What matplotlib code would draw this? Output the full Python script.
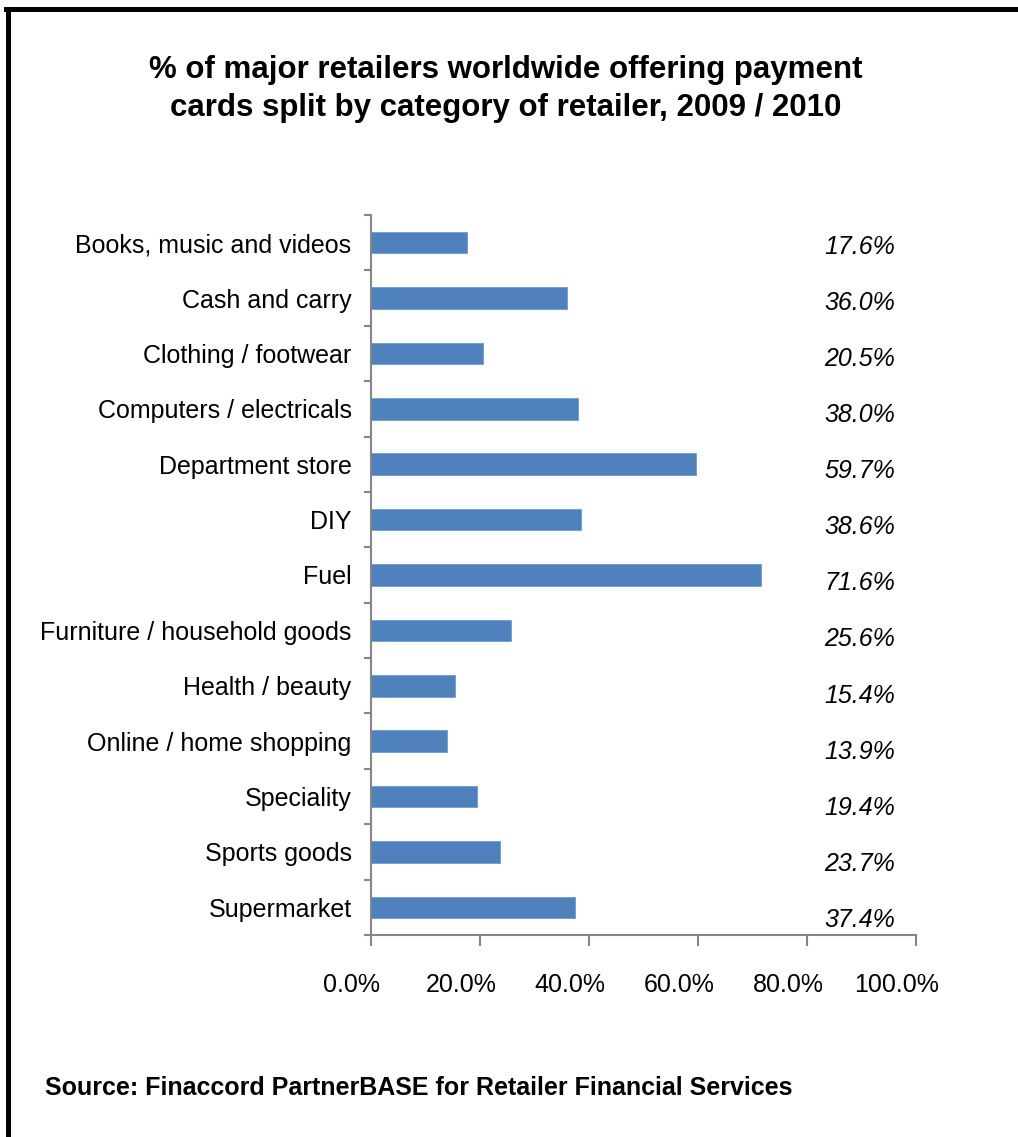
import matplotlib.pyplot as plt
import matplotlib.transforms as mtransforms
import numpy as np
from matplotlib.lines import Line2D

plt.rcParams['font.family'] = ['Liberation Sans', 'DejaVu Sans']

# data
categories = ['Books, music and videos', 'Cash and carry', 'Clothing / footwear',
              'Computers / electricals', 'Department store', 'DIY', 'Fuel',
              'Furniture / household goods', 'Health / beauty', 'Online / home shopping',
              'Speciality', 'Sports goods', 'Supermarket']
values = [17.6, 36.0, 20.5, 38.0, 59.7, 38.6, 71.6, 25.6, 15.4, 13.9, 19.4, 23.7, 37.4]
xticks = [0, 20, 40, 60, 80, 100]

W, H = 1018, 1137
fig = plt.figure(figsize=(W / 100, H / 100), dpi=100)
ax = fig.add_axes([371 / W, 1 - 935 / H, 545 / W, 720 / H])

pos = np.arange(len(categories))
ax.barh(pos, values, height=0.39, color='#4F81BD', edgecolor='#6E9BD0', linewidth=0.6)

ax.set_xlim(0, 100)
ax.set_ylim(len(categories) - 0.5, -0.5)

# y axis: labels without ticks, ticks at category boundaries
ax.set_yticks(pos)
ax.set_yticklabels(categories, fontsize=18)
ax.tick_params(axis='y', which='major', length=0, pad=14)
ax.set_yticks(np.arange(-0.5, len(categories)), minor=True)
ax.tick_params(axis='y', which='minor', length=5, width=1.5, color='#868686', direction='out')

ax.set_xticks(xticks)
ax.set_xticklabels(['%.1f%%' % t for t in xticks], fontsize=18)
ax.tick_params(axis='x', length=8, width=1.5, color='#868686', pad=19)
# excel puts the x labels a bit left of the ticks
shift = mtransforms.ScaledTranslation(-0.19, 0, fig.dpi_scale_trans)
for lab in ax.get_xticklabels():
    lab.set_transform(lab.get_transform() + shift)

for s in ['top', 'right']:
    ax.spines[s].set_visible(False)
for s in ['left', 'bottom']:
    ax.spines[s].set_color('#868686')
    ax.spines[s].set_linewidth(1.5)

# value labels on the right
for i, v in enumerate(values):
    ax.text(96.2, i + 0.08 + 0.012 * i, '%.1f%%' % v, ha='right', va='center',
            fontsize=18, style='italic')

fig.text(0.497, 1 - 89 / H,
         '% of major retailers worldwide offering payment\ncards split by category of retailer, 2009 / 2010',
         ha='center', va='center', fontsize=22.5, fontweight='bold', linespacing=1.35)

fig.text(45 / W, 1 - 1088 / H, 'Source: Finaccord PartnerBASE for Retailer Financial Services',
         ha='left', va='center', fontsize=18, fontweight='bold')

# frame lines
fig.add_artist(Line2D([6 / W, 1], [1 - 8.5 / H, 1 - 8.5 / H], color='black', lw=3.6,
                      transform=fig.transFigure))
fig.add_artist(Line2D([8 / W, 8 / W], [0, 1 - 8.5 / H], color='black', lw=3.6,
                      transform=fig.transFigure))

fig.savefig('out.png', dpi=100)
